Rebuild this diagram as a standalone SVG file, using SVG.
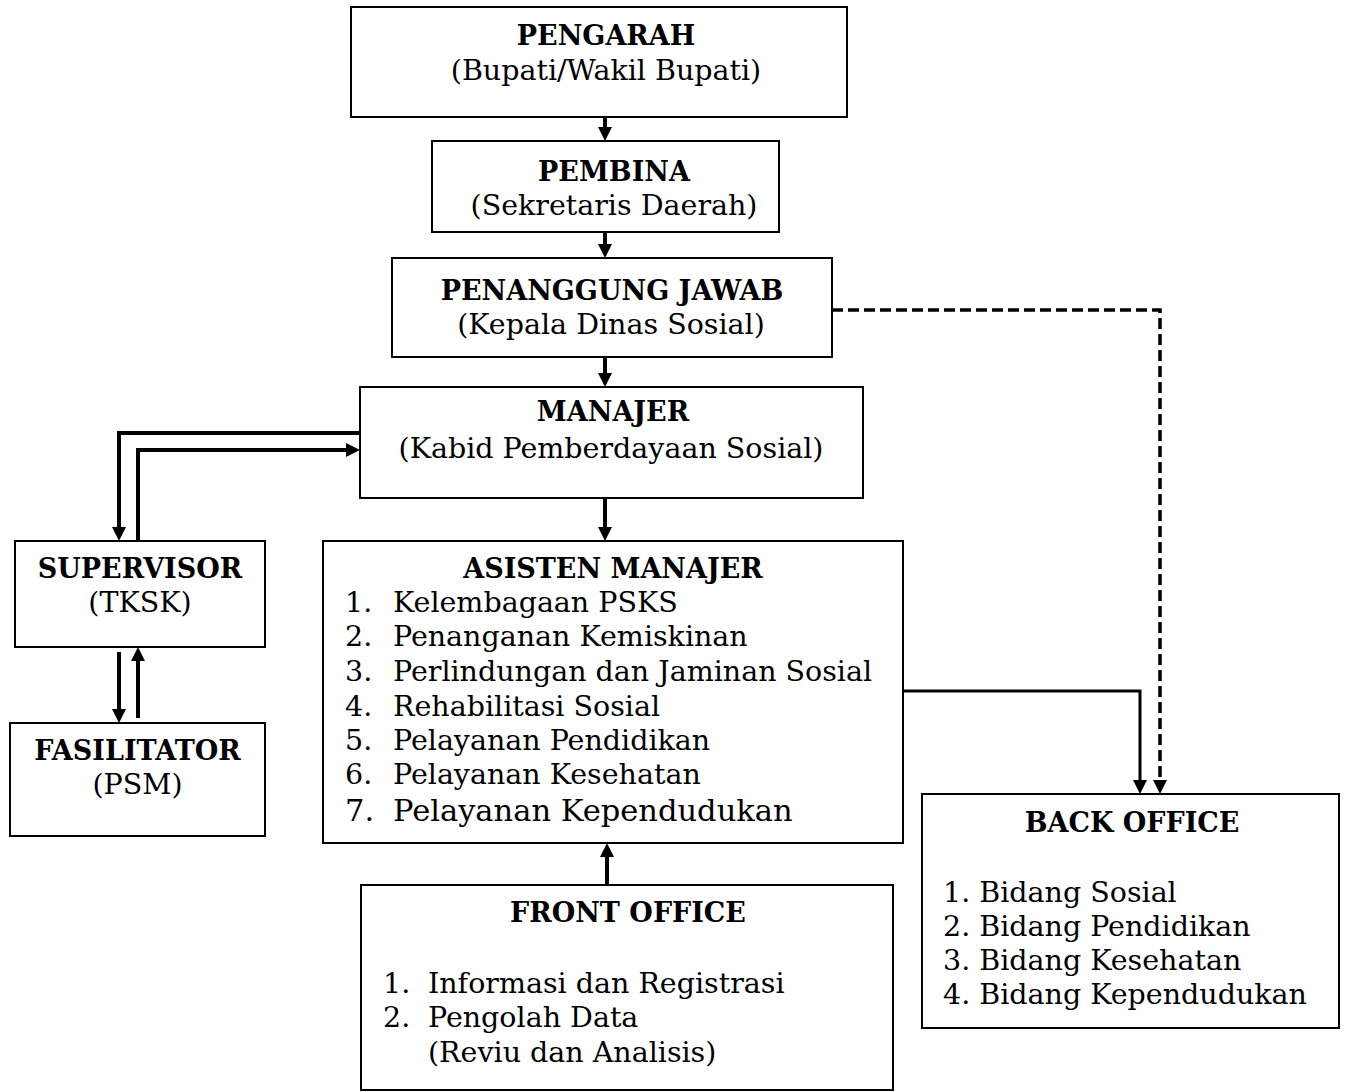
<svg xmlns="http://www.w3.org/2000/svg" width="1345" height="1092" viewBox="0 0 1345 1092">
<style>
  .box { fill: #fff; stroke: #000; stroke-width: 2; }
  .t { font-family: "DejaVu Serif", "Liberation Serif", serif; font-size: 28.5px; fill: #000; }
  .b { font-family: "DejaVu Serif", "Liberation Serif", serif; font-size: 27px; font-weight: bold; fill: #000; }
  .m { text-anchor: middle; }
  .c { fill: none; stroke: #000; stroke-width: 4; }
  .thin { stroke-width: 3; }
  .dash { stroke-width: 3.5; stroke-dasharray: 11 5; }
</style>
<defs>
  <marker id="ah" viewBox="0 0 14 14" markerWidth="14" markerHeight="14" refX="4" refY="7" orient="auto" markerUnits="userSpaceOnUse">
    <path d="M0,0 L14,7 L0,14 z" fill="#000"/>
  </marker>
</defs>
<rect width="1345" height="1092" fill="#fff"/>

<g id="connectors">
  <path class="c" d="M605,117 V131" marker-end="url(#ah)"/>
  <path class="c" d="M605,232 V248" marker-end="url(#ah)"/>
  <path class="c" d="M605,357 V377" marker-end="url(#ah)"/>
  <path class="c" d="M605,498 V531" marker-end="url(#ah)"/>
  <path class="c" d="M607,885 V853" marker-end="url(#ah)"/>
  <path class="c" d="M360,433 H119 V531" marker-end="url(#ah)"/>
  <path class="c" d="M138,541 V450 H350" marker-end="url(#ah)"/>
  <path class="c" d="M119,652 V713" marker-end="url(#ah)"/>
  <path class="c" d="M138,718 V657" marker-end="url(#ah)"/>
  <path class="c thin" d="M903,691 H1140 V784" marker-end="url(#ah)"/>
  <path class="c dash" d="M832,310 H1160 V784" marker-end="url(#ah)"/>
</g>

<g id="pengarah">
  <rect class="box" x="351" y="7" width="496" height="110"/>
  <text class="b m" x="606" y="45">PENGARAH</text>
  <text class="t m" x="606" y="80">(Bupati/Wakil Bupati)</text>
</g>
<g id="pembina">
  <rect class="box" x="432" y="141" width="347" height="91"/>
  <text class="b m" x="614" y="181">PEMBINA</text>
  <text class="t m" x="614" y="215">(Sekretaris Daerah)</text>
</g>
<g id="penanggung-jawab">
  <rect class="box" x="392" y="258" width="440" height="99"/>
  <text class="b m" x="612" y="300">PENANGGUNG JAWAB</text>
  <text class="t m" x="611" y="334">(Kepala Dinas Sosial)</text>
</g>
<g id="manajer">
  <rect class="box" x="360" y="387" width="503" height="111"/>
  <text class="b m" x="613" y="421">MANAJER</text>
  <text class="t m" x="611" y="458">(Kabid Pemberdayaan Sosial)</text>
</g>
<g id="supervisor">
  <rect class="box" x="15" y="541" width="250" height="106"/>
  <text class="b m" x="140" y="578">SUPERVISOR</text>
  <text class="t m" x="140" y="612">(TKSK)</text>
</g>
<g id="fasilitator">
  <rect class="box" x="10" y="723" width="255" height="113"/>
  <text class="b m" x="137.5" y="760">FASILITATOR</text>
  <text class="t m" x="137.5" y="794">(PSM)</text>
</g>
<g id="asisten-manajer">
  <rect class="box" x="323" y="541" width="580" height="302"/>
  <text class="b m" x="613" y="578">ASISTEN MANAJER</text>
  <text class="t" x="345" y="612">1.</text><text class="t" x="393" y="612">Kelembagaan PSKS</text>
  <text class="t" x="345" y="646">2.</text><text class="t" x="393" y="646">Penanganan Kemiskinan</text>
  <text class="t" x="345" y="681">3.</text><text class="t" x="393" y="681">Perlindungan dan Jaminan Sosial</text>
  <text class="t" x="345" y="716">4.</text><text class="t" x="393" y="716">Rehabilitasi Sosial</text>
  <text class="t" x="345" y="750">5.</text><text class="t" x="393" y="750">Pelayanan Pendidikan</text>
  <text class="t" x="345" y="784">6.</text><text class="t" x="393" y="784">Pelayanan Kesehatan</text>
  <text class="t" x="345" y="821" style="font-size:30.5px">7.</text><text class="t" x="393" y="821" style="font-size:30.5px">Pelayanan Kependudukan</text>
</g>
<g id="front-office">
  <rect class="box" x="361" y="885" width="532" height="205"/>
  <text class="b m" x="628" y="922">FRONT OFFICE</text>
  <text class="t" x="383" y="993">1.</text><text class="t" x="428" y="993">Informasi dan Registrasi</text>
  <text class="t" x="383" y="1027">2.</text><text class="t" x="428" y="1027">Pengolah Data</text>
  <text class="t" x="428" y="1062">(Reviu dan Analisis)</text>
</g>
<g id="back-office">
  <rect class="box" x="922" y="794" width="417" height="234"/>
  <text class="b m" x="1132" y="832">BACK OFFICE</text>
  <text class="t" x="943" y="902">1. Bidang Sosial</text>
  <text class="t" x="943" y="936">2. Bidang Pendidikan</text>
  <text class="t" x="943" y="970">3. Bidang Kesehatan</text>
  <text class="t" x="943" y="1004">4. Bidang Kependudukan</text>
</g>
</svg>
